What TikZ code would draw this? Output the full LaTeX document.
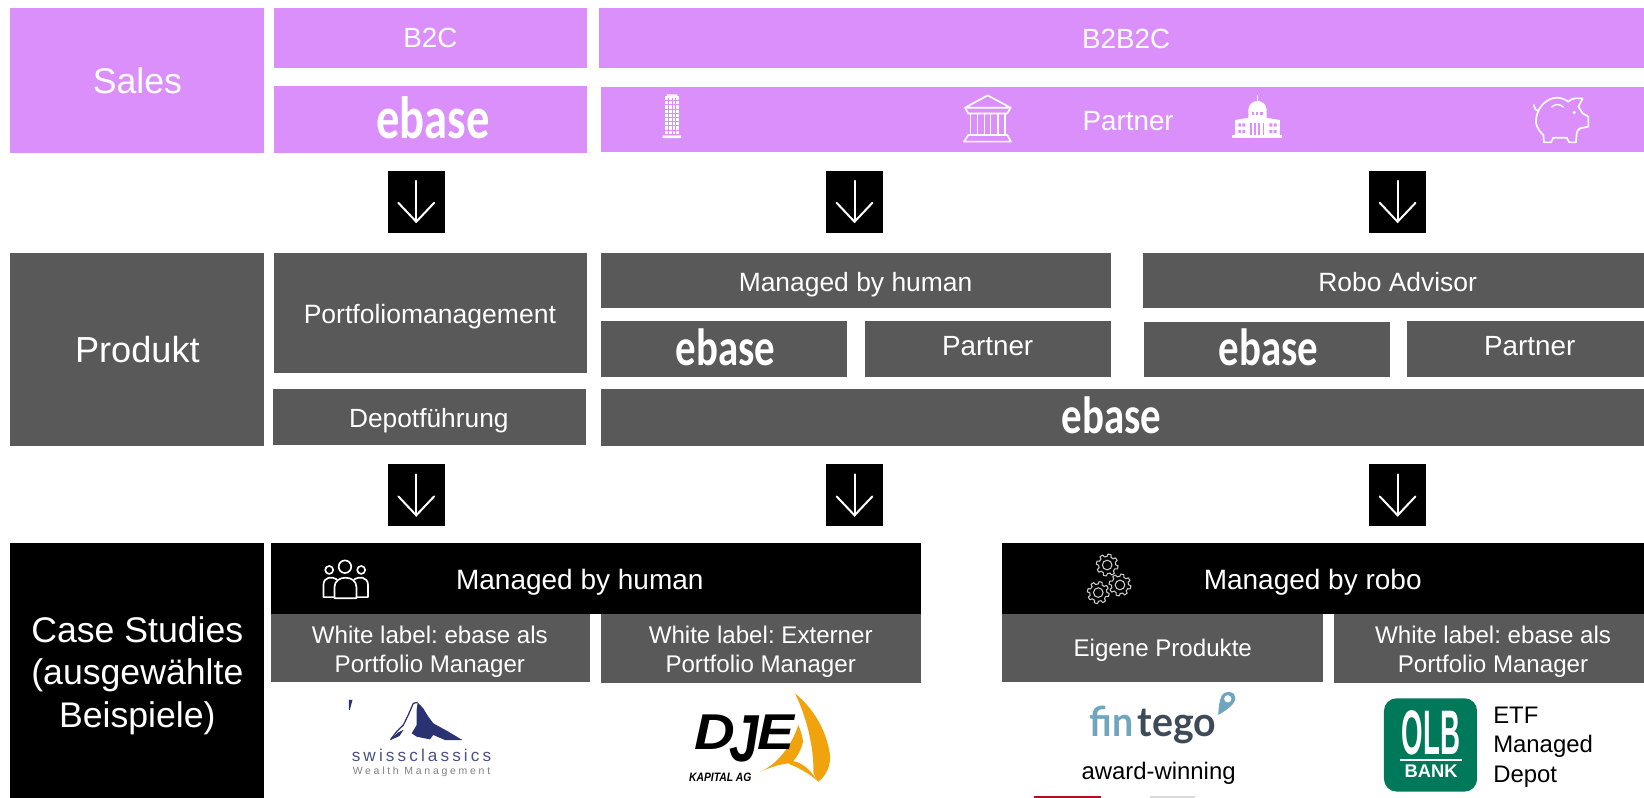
\documentclass[tikz,border=0pt]{standalone}
\usepackage{fontspec}
\usepackage{graphicx}
\setmainfont{Liberation Sans}
\frenchspacing
\newfontfamily\ebasefont{Carlito}
\newfontfamily\fintegofont{Lato}
\newfontfamily\spacedfont[LetterSpace=18]{Liberation Sans}
\newfontfamily\spacedsmall[LetterSpace=26]{Liberation Sans}
\definecolor{salespurple}{HTML}{DB8FFB}
\definecolor{prodgray}{HTML}{595959}
\definecolor{navy}{HTML}{2A3272}
\definecolor{navytext}{HTML}{4A5088}
\definecolor{sail}{HTML}{F0A30C}
\definecolor{finblue}{HTML}{6FA5BE}
\definecolor{findark}{HTML}{3D4B59}
\definecolor{olbgreen}{HTML}{00785A}
\definecolor{redbar}{HTML}{B01022}
\newcommand{\fs}[1]{\fontsize{#1}{#1}\selectfont}
\tikzset{
  bx/.style={inner sep=0pt,outer sep=0pt,text=white,align=center,text depth=0pt},
  lbl/.style={inner sep=0pt,outer sep=0pt,text=white,align=center,text depth=0pt},
  iconline/.style={draw=white,line width=1.6pt,line join=round,line cap=round,fill=none},
  arrowline/.style={draw=white,line width=1.9pt,line cap=round,line join=miter},
  declare function={gearr(\t)=(sin(8*\t)>=0)?1:.78;}
}
% name x1 y1 x2 y2 fill text
\newcommand{\rbox}[7]{\node[bx,fill=#6,minimum width={(#4-#2)*1pt},minimum height={(#5-#3)*1pt}] (#1) at ({(#2+#4)/2},{(#3+#5)/2}) {#7};}
\newcommand{\ebaselogo}[1]{{\ebasefont\bfseries\fs{#1}\scalebox{.78}[1]{ebase}}}
\newcommand{\arrowbox}[3]{%
  \node[fill=black,minimum width=54pt,minimum height=59pt,inner sep=0pt,outer sep=0pt] (#1) at (#2,#3) {};
  \begin{scope}[shift={(#1.center)}]
    \draw[arrowline] (0,-20) -- (0,19);
    \draw[arrowline] (-17,1) -- (0,19) -- (17,1);
  \end{scope}}
\newcommand{\gear}[3]{%
  \draw[draw=white!80!black,line width=1pt,line join=round] plot[smooth,domain=4:364,samples=65] ({#1+#3*gearr(\x)*cos(\x)},{#2+#3*gearr(\x)*sin(\x)}) -- cycle;
  \draw[draw=white!80!black,line width=1pt] (#1,#2) circle ({#3*.44});}
\begin{document}
\begin{tikzpicture}[x=1pt,y=-1pt]
\useasboundingbox (0,0) rectangle (1568,761);
% Sales row
\rbox{sales}{10}{8}{252}{146}{salespurple}{\fs{34}Sales}
\rbox{b2c}{261}{8}{560}{65}{salespurple}{\fs{26.5}B2C}
\rbox{ebasesales}{261}{82}{560}{146}{salespurple}{}
\node[lbl] (ebasesalestxt) at (413,112.5) {\ebaselogo{57}};
\rbox{b2b}{571}{8}{1568}{65}{salespurple}{}
\node[lbl] (b2btxt) at (1074,37) {\fs{26.5}B2B2C};
\rbox{partnerbar}{573}{83}{1568}{145}{salespurple}{}
\node[lbl] (partnertxt) at (1076,115) {\fs{26.5}Partner};
% tower
\fill[white] (636,90) rectangle (646,92.5) (632,129) rectangle (649.6,131.8);
\fill[white] (634,92) rectangle (648,129);
\foreach \yy in {96,100,...,128} \draw[salespurple,line width=.8pt] (634.5,\yy) -- (647.5,\yy);
\foreach \xx in {637.5,641,644.5} \draw[salespurple,line width=.8pt] (\xx,93) -- (\xx,128.5);
% temple
\draw[iconline] (942,91) -- (920.5,102.7) -- (963.9,102.7) -- cycle;
\draw[iconline] (920.5,102.7) -- (923.5,108.2) -- (960.7,108.2) -- (963.9,102.7);
\foreach \xx in {925.7,932.4,938.8,944.8,952,958.5} \draw[iconline,line width=1.3pt] (\xx,108) -- (\xx,128.8);
\draw[iconline] (923.5,128.8) -- (960.7,128.8) -- (964.2,135.1) -- (919.4,135.1) -- cycle;
% capitol
\draw[white,line width=1pt] (1199.2,90.6) -- (1199.2,98);
\fill[white] (1190.6,105) arc[start angle=180,end angle=360,radius=8.75] -- (1208.1,113) -- (1190.6,113) -- cycle;
\fill[white] (1177.9,114.5) -- (1189.7,112.5) -- (1199.2,110) -- (1208.8,112.5) -- (1220.8,114.5) -- (1220.8,129) -- (1177.9,129) -- cycle;
\fill[white] (1175.4,128.8) rectangle (1223,131.5);
\foreach \xx in {1194,1198,1202} \fill[salespurple] (\xx,106.8) rectangle (\xx+2.2,110);
\fill[salespurple] (1181,117.6) rectangle (1183.8,120.8) (1185,117.6) rectangle (1187.8,120.8) (1181,124) rectangle (1183.8,127) (1185,124) rectangle (1187.8,127);
\fill[salespurple] (1210.7,117.6) rectangle (1213.5,120.8) (1214.7,117.6) rectangle (1217.5,120.8) (1210.7,124) rectangle (1213.5,127) (1214.7,124) rectangle (1217.5,127);
\foreach \xx in {1192.3,1196.3,1200.3,1204.3} \fill[salespurple] (\xx,117.5) rectangle (\xx+1.6,128.8);
% piggy
\draw[iconline] (1472.6,135.8) -- (1472,128.8) .. controls (1466,123) and (1464.5,118) .. (1465,114.5) .. controls (1465.5,104) and (1474,93.5) .. (1484.7,93.2) .. controls (1489,93) and (1493,95) .. (1495.8,97) .. controls (1498,95) and (1500,93.8) .. (1502.2,93.8) -- (1509.5,93.8) -- (1505.4,101.7) .. controls (1507,104) and (1508,106) .. (1509.5,108.1) -- (1514.9,111.3) -- (1514.9,120.8) -- (1507,122.4) .. controls (1505,124) and (1504,125) .. (1503.8,127.2) -- (1503.1,135.8) -- (1496.8,135.8) -- (1494.2,131.3) -- (1481.5,131.3) -- (1479.3,135.8) -- cycle;
\draw[iconline] (1463,100.2) .. controls (1463.5,103.5) and (1465,105.5) .. (1467.5,106.5);
\draw[iconline,line width=1.3pt] (1480,102) .. controls (1483,99) and (1488,99) .. (1491,102);
\fill[white] (1501.5,107.2) circle (1.6);
% arrows row 1
\arrowbox{arrA}{397}{192.5}
\arrowbox{arrB}{815}{192.5}
\arrowbox{arrC}{1333}{192.5}
% Produkt row
\rbox{produkt}{10}{241}{252}{425}{prodgray}{\fs{34.5}Produkt}
\rbox{pm}{261}{241}{560}{356}{prodgray}{}
\node[lbl] (pmtxt) at (410,299) {\fs{25.3}Portfoliomanagement};
\rbox{depot}{260}{371}{559}{424}{prodgray}{}
\node[lbl] (depottxt) at (409,399) {\fs{25.1}Depotführung};
\rbox{mbh}{573}{241}{1060}{294}{prodgray}{}
\node[lbl] (mbhtxt) at (816,269) {\fs{25.2}Managed by human};
\rbox{robo}{1090}{241}{1568}{294}{prodgray}{}
\node[lbl] (robotxt) at (1333,269) {\fs{25.2}Robo Advisor};
\rbox{ebaseA}{573}{306}{808}{360}{prodgray}{}
\node[lbl] (ebaseAtxt) at (692,331.5) {\ebaselogo{50}};
\rbox{partnerA}{825}{306}{1060}{360}{prodgray}{}
\node[lbl] (partnerAtxt) at (942,330) {\fs{26.5}Partner};
\rbox{ebaseB}{1091}{307}{1326}{360}{prodgray}{}
\node[lbl] (ebaseBtxt) at (1210,331.5) {\ebaselogo{50}};
\rbox{partnerB}{1342}{306}{1568}{360}{prodgray}{}
\node[lbl] (partnerBtxt) at (1459,330) {\fs{26.5}Partner};
\rbox{ebaseC}{573}{371}{1568}{425}{prodgray}{}
\node[lbl] (ebaseCtxt) at (1060,395.5) {\ebaselogo{50}};
% arrows row 2
\arrowbox{arrD}{397}{472.5}
\arrowbox{arrE}{815}{472.5}
\arrowbox{arrF}{1333}{472.5}
% Case studies row
\rbox{cases}{10}{518}{252}{761}{black}{}
\node[lbl,font=\fontsize{34}{41}\selectfont] (casestxt) at (131,641) {Case Studies\\(ausgewählte\\Beispiele)};
\rbox{human}{258}{518}{878}{586}{black}{}
\node[lbl] (humantxt) at (553,553) {\fs{26.7}Managed by human};
\rbox{mrobo}{956}{518}{1568}{586}{black}{}
\node[lbl] (robotxtB) at (1252,553) {\fs{26.7}Managed by robo};
% people icon
\draw[iconline] (329,540.5) circle (6) (314,543.6) circle (3.8) (344.5,543.6) circle (3.8);
\draw[iconline] (319,570.5) -- (319,560) .. controls (319,548) and (340,548) .. (340,560) -- (340,570.5) -- cycle;
\draw[iconline] (319,569.5) -- (308.5,569.5) -- (308.5,558) .. controls (308.5,550) and (317,549.5) .. (321,552.5);
\draw[iconline] (340,569.5) -- (351,569.5) -- (351,558) .. controls (351,550) and (342,549.5) .. (338,552.5);
% gears
\gear{1056}{538.9}{10.4}
\gear{1047.5}{565.2}{10.4}
\gear{1068.2}{557.9}{10.4}
% white-label boxes
\rbox{wlA}{258}{586}{563}{650}{prodgray}{}
\node[lbl,font=\fontsize{23}{28}\selectfont] (wlAtxt) at (410,619) {White label: ebase als\\Portfolio Manager};
\rbox{wlB}{573}{586}{878}{651}{prodgray}{}
\node[lbl,font=\fontsize{23}{28}\selectfont] (wlBtxt) at (725.5,619.5) {White label: Externer\\Portfolio Manager};
\rbox{eigene}{956}{586}{1262}{650}{prodgray}{\fs{23}Eigene Produkte}
\rbox{wlC}{1272}{586}{1568}{651}{prodgray}{}
\node[lbl,font=\fontsize{23}{28}\selectfont] (wlCtxt) at (1424,619.5) {White label: ebase als\\Portfolio Manager};
% swissclassics logo
\fill[navy] (332.8,667.6) -- (336.2,667.6) -- (333.6,677) -- (332.8,677) -- cycle;
\draw[navy,line width=1.2pt,line join=round] (372.5,705.5) -- (378.3,697.8) -- (384.7,691.5) -- (389.4,681.9) -- (394.2,670.8) -- (398.3,669.9);
\fill[navy] (372,706) -- (379,699) -- (385,696) -- (381,702) -- cycle;
\fill[navy] (398.3,669.9) -- (403.7,675.6) -- (408.5,683.5) -- (413.3,689.9) -- (427.6,697.8) -- (441,705.8) -- (424.4,705.8) -- (413.3,701) -- (410,705.2) -- (397.4,702.6) -- (392.6,699.4) -- (397.4,691.5) -- (397.4,677.2) -- cycle;
\node[inner sep=0pt,text=navytext,text depth=0pt] (swiss) at (402,720.7) {\spacedfont\fs{16.4}swissclassics};
\node[inner sep=0pt,text=black!50,text depth=0pt] (swisssub) at (402,735.4) {\spacedsmall\fs{10}Wealth Management};
% DJE logo
\fill[sail] (758.2,661.3) .. controls (775,675) and (788,695) .. (791.6,720) .. controls (792.5,730) and (788,740) .. (780.5,745.5) .. controls (778,742) and (776.5,740) .. (775.7,736.6) .. controls (776.5,715) and (770,685) .. (758.2,661.3) -- cycle;
\fill[sail] (724.9,736) .. controls (740,730) and (755,712) .. (761.4,691.5) .. controls (764,697) and (765,702) .. (766,707) .. controls (764,716) and (760,722) .. (755,728) .. controls (745,728) and (735,732) .. (724.9,736) -- cycle;
\fill[sail] (752,728.5) -- (757,726) .. controls (768,728) and (775,738) .. (780.5,745.5) .. controls (772,738) and (762,732) .. (752,728.5) -- cycle;
\node[inner sep=0pt,text=black,anchor=base west,text depth=0pt] (dje) at (662,715) {\fs{48}\bfseries\itshape \scalebox{1.12}[1]{D}\kern-5pt\raisebox{-11pt}{\scalebox{1.05}[1.32]{J}}\kern-2pt\scalebox{1.1}[1]{E}};
\node[inner sep=0pt,text=black,text depth=0pt] (djesub) at (687,741) {\fs{11.6}\scalebox{.85}[1]{\bfseries\itshape KAPITAL AG}};
% fintego logo
\node[inner sep=0pt,text=finblue,anchor=base west] (fin) at (1039,702.5) {\fintegofont\bfseries\fs{39}\scalebox{.92}[1]{fin}};
\node[inner sep=0pt,text=findark,anchor=base west] (tego) at (1085,702.5) {\fintegofont\bfseries\fs{39}\scalebox{.96}[1]{tego}};
\fill[finblue,even odd rule] (1162,682) .. controls (1162,676) and (1163,668) .. (1165,664) .. controls (1168,658) and (1178,658) .. (1178,666) .. controls (1178,672) and (1170,677) .. (1162,682) -- cycle (1171,666.5) circle (3.6);
\node[inner sep=0pt,text=black,text depth=0pt] (award) at (1105,735) {\fs{22.8}award-winning};
\fill[redbar] (986,759) rectangle (1050,761);
\fill[black!15] (1097,759) rectangle (1140,761);
% OLB logo
\node[fill=olbgreen,rounded corners=12pt,minimum width=88.8pt,minimum height=89pt,inner sep=0pt,outer sep=0pt] (olbbox) at (1364.4,710.5) {};
\node[inner sep=0pt,text=white] (olb) at (1365,699) {\fs{60}\scalebox{.44}[1]{\bfseries OLB}};
\draw[white,line width=2pt] (1335,725) -- (1394,725);
\node[inner sep=0pt,text=white] (bank) at (1365,736) {\fs{17.5}\bfseries BANK};
\node[inner sep=0pt,text=black,align=left,anchor=west,font=\fontsize{22.8}{28}\selectfont,text depth=0pt] (etf) at (1424,710) {ETF\\Managed\\Depot};
\end{tikzpicture}
\end{document}
